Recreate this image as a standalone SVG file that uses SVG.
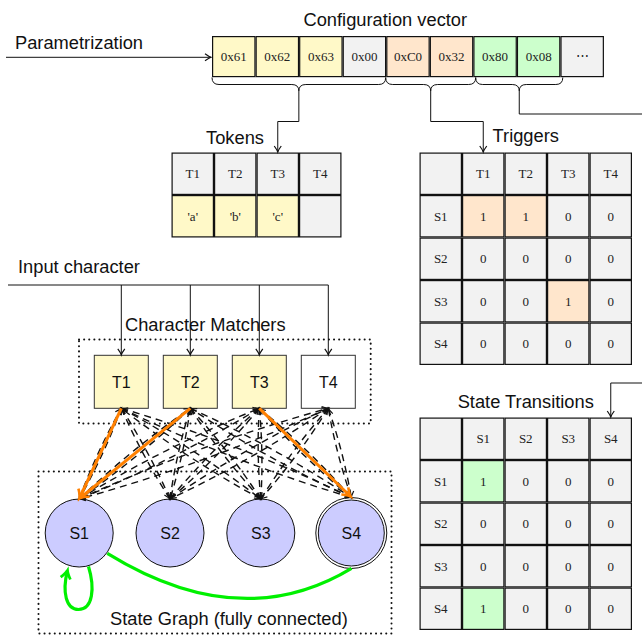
<svg xmlns="http://www.w3.org/2000/svg" width="642" height="635" viewBox="0 0 642 635">
<style>
.t{font-family:"Liberation Sans",Arial,sans-serif;font-size:18.3px;fill:#111}
.nl{font-family:"Liberation Sans",Arial,sans-serif;font-size:16px;fill:#111;text-anchor:middle}
.c{font-family:"Liberation Serif","Times New Roman",serif;font-size:13px;fill:#222;text-anchor:middle}
.cell{stroke:#111;stroke-width:1.2}
.y{fill:#FFF9C8}.g{fill:#F2F2F2}.o{fill:#FFE6CC}.gr{fill:#CCFFCC}
.ln{fill:none;stroke:#111;stroke-width:1}
.dot{fill:none;stroke:#111;stroke-width:2;stroke-linecap:round;stroke-dasharray:0.1 5}
.da{fill:none;stroke:#111;stroke-width:1.4;stroke-dasharray:7 5;marker-end:url(#ak)}
.or{fill:none;stroke:#FF8000;stroke-width:3;marker-end:url(#ao)}
.gn{fill:none;stroke:#00F000;stroke-width:3.2}
</style>
<defs>
<marker id="ak" markerUnits="userSpaceOnUse" viewBox="-8 -6 9 12" markerWidth="9" markerHeight="12" refX="0" refY="0" orient="auto" overflow="visible">
<path d="M-6,-3.5 Q-2,-0.6 0,0 Q-2,0.6 -6,3.5" fill="none" stroke="#111" stroke-width="1.2" stroke-dasharray="none"/>
</marker>
<marker id="ao" markerUnits="userSpaceOnUse" viewBox="-10 -8 12 16" markerWidth="12" markerHeight="16" refX="0" refY="0" orient="auto" overflow="visible">
<path d="M-8,-5 Q-3,-1 0,0 Q-3,1 -8,5" fill="none" stroke="#FF8000" stroke-width="2.6"/>
</marker>
<marker id="ag" markerUnits="userSpaceOnUse" viewBox="-10 -8 12 16" markerWidth="12" markerHeight="16" refX="0" refY="0" orient="auto" overflow="visible">
<path d="M-8,-5 Q-3,-1 0,0 Q-3,1 -8,5" fill="none" stroke="#00F000" stroke-width="2.8"/>
</marker>
</defs>
<rect width="642" height="635" fill="#fff"/>

<!-- Titles -->
<text class="t" x="15" y="48.5">Parametrization</text>
<text class="t" x="303.5" y="26">Configuration vector</text>
<text class="t" x="235" y="144" text-anchor="middle">Tokens</text>
<text class="t" x="525.75" y="141.5" text-anchor="middle">Triggers</text>
<text class="t" x="18" y="273">Input character</text>
<text class="t" x="125" y="331">Character Matchers</text>
<text class="t" x="525.75" y="408" text-anchor="middle">State Transitions</text>
<text class="t" x="110" y="625">State Graph (fully connected)</text>

<!-- Configuration vector -->
<g id="config-vector">
<rect class="cell y" x="212.6" y="36.6" width="42.35" height="40"/>
<rect class="cell y" x="256.15" y="36.6" width="42.35" height="40"/>
<rect class="cell y" x="299.7" y="36.6" width="42.35" height="40"/>
<rect class="cell g" x="343.25" y="36.6" width="42.35" height="40"/>
<rect class="cell o" x="386.8" y="36.6" width="42.35" height="40"/>
<rect class="cell o" x="430.35" y="36.6" width="42.35" height="40"/>
<rect class="cell gr" x="473.9" y="36.6" width="42.35" height="40"/>
<rect class="cell gr" x="517.45" y="36.6" width="42.35" height="40"/>
<rect class="cell g" x="561" y="36.6" width="42.35" height="40"/>
<text class="c" x="233.8" y="61">0x61</text>
<text class="c" x="277.3" y="61">0x62</text>
<text class="c" x="320.9" y="61">0x63</text>
<text class="c" x="364.4" y="61">0x00</text>
<text class="c" x="408" y="61">0xC0</text>
<text class="c" x="451.5" y="61">0x32</text>
<text class="c" x="495.1" y="61">0x80</text>
<text class="c" x="538.7" y="61">0x08</text>
<text class="c" x="582.2" y="60">⋯</text>
</g>

<!-- Tokens table -->
<g id="tokens">
<rect class="cell g" x="172.1" y="153.1" width="41.3" height="41.3"/>
<rect class="cell g" x="214.6" y="153.1" width="41.3" height="41.3"/>
<rect class="cell g" x="257.1" y="153.1" width="41.3" height="41.3"/>
<rect class="cell g" x="299.6" y="153.1" width="41.3" height="41.3"/>
<rect class="cell y" x="172.1" y="195.6" width="41.3" height="41.3"/>
<rect class="cell y" x="214.6" y="195.6" width="41.3" height="41.3"/>
<rect class="cell y" x="257.1" y="195.6" width="41.3" height="41.3"/>
<rect class="cell g" x="299.6" y="195.6" width="41.3" height="41.3"/>
<text class="c" x="192.75" y="178.2">T1</text>
<text class="c" x="235.25" y="178.2">T2</text>
<text class="c" x="277.75" y="178.2">T3</text>
<text class="c" x="320.25" y="178.2">T4</text>
<text class="c" x="192.75" y="220.7">'a'</text>
<text class="c" x="235.25" y="220.7">'b'</text>
<text class="c" x="277.75" y="220.7">'c'</text>
</g>

<!-- Triggers table -->
<g id="triggers">
<g>
<rect class="cell g" x="420.1" y="153.1" width="41.3" height="41.3"/>
<rect class="cell g" x="462.6" y="153.1" width="41.3" height="41.3"/>
<rect class="cell g" x="505.1" y="153.1" width="41.3" height="41.3"/>
<rect class="cell g" x="547.6" y="153.1" width="41.3" height="41.3"/>
<rect class="cell g" x="590.1" y="153.1" width="41.3" height="41.3"/>
<rect class="cell g" x="420.1" y="195.6" width="41.3" height="41.3"/>
<rect class="cell o" x="462.6" y="195.6" width="41.3" height="41.3"/>
<rect class="cell o" x="505.1" y="195.6" width="41.3" height="41.3"/>
<rect class="cell g" x="547.6" y="195.6" width="41.3" height="41.3"/>
<rect class="cell g" x="590.1" y="195.6" width="41.3" height="41.3"/>
<rect class="cell g" x="420.1" y="238.1" width="41.3" height="41.3"/>
<rect class="cell g" x="462.6" y="238.1" width="41.3" height="41.3"/>
<rect class="cell g" x="505.1" y="238.1" width="41.3" height="41.3"/>
<rect class="cell g" x="547.6" y="238.1" width="41.3" height="41.3"/>
<rect class="cell g" x="590.1" y="238.1" width="41.3" height="41.3"/>
<rect class="cell g" x="420.1" y="280.6" width="41.3" height="41.3"/>
<rect class="cell g" x="462.6" y="280.6" width="41.3" height="41.3"/>
<rect class="cell g" x="505.1" y="280.6" width="41.3" height="41.3"/>
<rect class="cell o" x="547.6" y="280.6" width="41.3" height="41.3"/>
<rect class="cell g" x="590.1" y="280.6" width="41.3" height="41.3"/>
<rect class="cell g" x="420.1" y="323.1" width="41.3" height="41.3"/>
<rect class="cell g" x="462.6" y="323.1" width="41.3" height="41.3"/>
<rect class="cell g" x="505.1" y="323.1" width="41.3" height="41.3"/>
<rect class="cell g" x="547.6" y="323.1" width="41.3" height="41.3"/>
<rect class="cell g" x="590.1" y="323.1" width="41.3" height="41.3"/>
</g>
<text class="c" x="483.25" y="178.2">T1</text>
<text class="c" x="525.75" y="178.2">T2</text>
<text class="c" x="568.25" y="178.2">T3</text>
<text class="c" x="610.75" y="178.2">T4</text>
<text class="c" x="440.75" y="220.7">S1</text>
<text class="c" x="483.25" y="220.7">1</text>
<text class="c" x="525.75" y="220.7">1</text>
<text class="c" x="568.25" y="220.7">0</text>
<text class="c" x="610.75" y="220.7">0</text>
<text class="c" x="440.75" y="263.2">S2</text>
<text class="c" x="483.25" y="263.2">0</text>
<text class="c" x="525.75" y="263.2">0</text>
<text class="c" x="568.25" y="263.2">0</text>
<text class="c" x="610.75" y="263.2">0</text>
<text class="c" x="440.75" y="305.7">S3</text>
<text class="c" x="483.25" y="305.7">0</text>
<text class="c" x="525.75" y="305.7">0</text>
<text class="c" x="568.25" y="305.7">1</text>
<text class="c" x="610.75" y="305.7">0</text>
<text class="c" x="440.75" y="348.2">S4</text>
<text class="c" x="483.25" y="348.2">0</text>
<text class="c" x="525.75" y="348.2">0</text>
<text class="c" x="568.25" y="348.2">0</text>
<text class="c" x="610.75" y="348.2">0</text>
</g>

<!-- State transitions table -->
<g id="state-transitions">
<g>
<rect class="cell g" x="420.1" y="418.1" width="41.3" height="41.3"/>
<rect class="cell g" x="462.6" y="418.1" width="41.3" height="41.3"/>
<rect class="cell g" x="505.1" y="418.1" width="41.3" height="41.3"/>
<rect class="cell g" x="547.6" y="418.1" width="41.3" height="41.3"/>
<rect class="cell g" x="590.1" y="418.1" width="41.3" height="41.3"/>
<rect class="cell g" x="420.1" y="460.6" width="41.3" height="41.3"/>
<rect class="cell gr" x="462.6" y="460.6" width="41.3" height="41.3"/>
<rect class="cell g" x="505.1" y="460.6" width="41.3" height="41.3"/>
<rect class="cell g" x="547.6" y="460.6" width="41.3" height="41.3"/>
<rect class="cell g" x="590.1" y="460.6" width="41.3" height="41.3"/>
<rect class="cell g" x="420.1" y="503.1" width="41.3" height="41.3"/>
<rect class="cell g" x="462.6" y="503.1" width="41.3" height="41.3"/>
<rect class="cell g" x="505.1" y="503.1" width="41.3" height="41.3"/>
<rect class="cell g" x="547.6" y="503.1" width="41.3" height="41.3"/>
<rect class="cell g" x="590.1" y="503.1" width="41.3" height="41.3"/>
<rect class="cell g" x="420.1" y="545.6" width="41.3" height="41.3"/>
<rect class="cell g" x="462.6" y="545.6" width="41.3" height="41.3"/>
<rect class="cell g" x="505.1" y="545.6" width="41.3" height="41.3"/>
<rect class="cell g" x="547.6" y="545.6" width="41.3" height="41.3"/>
<rect class="cell g" x="590.1" y="545.6" width="41.3" height="41.3"/>
<rect class="cell g" x="420.1" y="588.1" width="41.3" height="41.3"/>
<rect class="cell gr" x="462.6" y="588.1" width="41.3" height="41.3"/>
<rect class="cell g" x="505.1" y="588.1" width="41.3" height="41.3"/>
<rect class="cell g" x="547.6" y="588.1" width="41.3" height="41.3"/>
<rect class="cell g" x="590.1" y="588.1" width="41.3" height="41.3"/>
</g>
<text class="c" x="483.25" y="443.2">S1</text>
<text class="c" x="525.75" y="443.2">S2</text>
<text class="c" x="568.25" y="443.2">S3</text>
<text class="c" x="610.75" y="443.2">S4</text>
<text class="c" x="440.75" y="485.7">S1</text>
<text class="c" x="483.25" y="485.7">1</text>
<text class="c" x="525.75" y="485.7">0</text>
<text class="c" x="568.25" y="485.7">0</text>
<text class="c" x="610.75" y="485.7">0</text>
<text class="c" x="440.75" y="528.2">S2</text>
<text class="c" x="483.25" y="528.2">0</text>
<text class="c" x="525.75" y="528.2">0</text>
<text class="c" x="568.25" y="528.2">0</text>
<text class="c" x="610.75" y="528.2">0</text>
<text class="c" x="440.75" y="570.7">S3</text>
<text class="c" x="483.25" y="570.7">0</text>
<text class="c" x="525.75" y="570.7">0</text>
<text class="c" x="568.25" y="570.7">0</text>
<text class="c" x="610.75" y="570.7">0</text>
<text class="c" x="440.75" y="613.2">S4</text>
<text class="c" x="483.25" y="613.2">1</text>
<text class="c" x="525.75" y="613.2">0</text>
<text class="c" x="568.25" y="613.2">0</text>
<text class="c" x="610.75" y="613.2">0</text>
</g>

<!-- Containers -->
<g id="character-matchers">
<rect class="dot" x="79" y="339.5" width="291.7" height="84"/>
</g>
<g id="state-graph">
<rect class="dot" x="38.5" y="471.5" width="353" height="162"/>
</g>

<!-- Matcher nodes -->
<g id="T1"><rect x="94.3" y="355.3" width="54" height="53" fill="#FFF9C8" stroke="#333" stroke-width="1"/><text class="nl" x="121.3" y="387.5">T1</text></g>
<g id="T2"><rect x="163.3" y="355.3" width="54" height="53" fill="#FFF9C8" stroke="#333" stroke-width="1"/><text class="nl" x="190.3" y="387.5">T2</text></g>
<g id="T3"><rect x="232.3" y="355.3" width="54" height="53" fill="#FFF9C8" stroke="#333" stroke-width="1"/><text class="nl" x="259.3" y="387.5">T3</text></g>
<g id="T4"><rect x="301.3" y="355.3" width="54" height="53" fill="#FFFFFF" stroke="#333" stroke-width="1"/><text class="nl" x="328.3" y="387.5">T4</text></g>

<!-- State nodes -->
<g id="S1"><circle cx="79.2" cy="533" r="34" fill="#CCCCFF" stroke="#111" stroke-width="1"/><text class="nl" x="79.2" y="538.8">S1</text></g>
<g id="S2"><circle cx="170" cy="533" r="34" fill="#CCCCFF" stroke="#111" stroke-width="1"/><text class="nl" x="170" y="538.8">S2</text></g>
<g id="S3"><circle cx="260.8" cy="533" r="34" fill="#CCCCFF" stroke="#111" stroke-width="1"/><text class="nl" x="260.8" y="538.8">S3</text></g>
<g id="S4"><circle cx="351.3" cy="533" r="35.5" fill="#FFFFFF" stroke="#111" stroke-width="1"/><circle cx="351.3" cy="533" r="33" fill="#CCCCFF" stroke="#111" stroke-width="1"/><text class="nl" x="351.3" y="538.8">S4</text></g>

<!-- Connectors -->
<g id="connectors">
<path class="ln" d="M6,57.3 H211" marker-end="url(#ak)"/>
<path class="ln" d="M212,77.5 Q212,84.5 219,84.5 H291.85 Q298.85,84.5 298.85,91 Q298.85,84.5 305.85,84.5 H378.7 Q385.7,84.5 385.7,77.5"/>
<path class="ln" d="M385.7,77.5 Q385.7,84.5 392.7,84.5 H423.7 Q430.7,84.5 430.7,91 Q430.7,84.5 437.7,84.5 H468.7 Q475.7,84.5 475.7,77.5"/>
<path class="ln" d="M475.7,77.5 Q475.7,84.5 482.7,84.5 H512.25 Q519.25,84.5 519.25,91 Q519.25,84.5 526.25,84.5 H555.8 Q562.8,84.5 562.8,77.5"/>
<path class="ln" d="M298.85,91 V121.5 H277.75 V152" marker-end="url(#ak)"/>
<path class="ln" d="M430.7,91 V121.5 H483.25 V152" marker-end="url(#ak)"/>
<path class="ln" d="M519.25,91 V114 H642"/>
<path class="ln" d="M642,383 H610.75 V417" marker-end="url(#ak)"/>
<path class="ln" d="M8,285 H328.3"/>
<path class="ln" d="M121.3,285 V354.8" marker-end="url(#ak)"/>
<path class="ln" d="M190.3,285 V354.8" marker-end="url(#ak)"/>
<path class="ln" d="M259.3,285 V354.8" marker-end="url(#ak)"/>
<path class="ln" d="M328.3,285 V354.8" marker-end="url(#ak)"/>

<path class="da" d="M121.3,408.3 Q103.9,455.3 79.2,499"/>
<path class="da" d="M79.2,499 Q96.6,452 121.3,408.3"/>
<path class="da" d="M121.3,408.3 Q149.3,451.7 170,499"/>
<path class="da" d="M170,499 Q142,455.6 121.3,408.3"/>
<path class="da" d="M121.3,408.3 Q194.7,448.1 260.8,499"/>
<path class="da" d="M260.8,499 Q187.4,459.2 121.3,408.3"/>
<path class="da" d="M121.3,408.3 Q239.9,443.7 351.3,497.5"/>
<path class="da" d="M351.3,497.5 Q232.7,462.1 121.3,408.3"/>

<path class="da" d="M190.3,408.3 Q138.4,458.1 79.2,499"/>
<path class="da" d="M79.2,499 Q131.1,449.2 190.3,408.3"/>
<path class="da" d="M190.3,408.3 Q183.8,454.5 170,499"/>
<path class="da" d="M170,499 Q176.5,452.8 190.3,408.3"/>
<path class="da" d="M190.3,408.3 Q229.2,450.8 260.8,499"/>
<path class="da" d="M260.8,499 Q221.9,456.5 190.3,408.3"/>
<path class="da" d="M190.3,408.3 Q274.4,446.5 351.3,497.5"/>
<path class="da" d="M351.3,497.5 Q267.2,459.3 190.3,408.3"/>

<path class="da" d="M259.3,408.3 Q172.9,460.9 79.2,499"/>
<path class="da" d="M79.2,499 Q165.6,446.4 259.3,408.3"/>
<path class="da" d="M259.3,408.3 Q218.3,457.2 170,499"/>
<path class="da" d="M170,499 Q211,450.1 259.3,408.3"/>
<path class="da" d="M259.3,408.3 Q263.7,453.6 260.8,499"/>
<path class="da" d="M260.8,499 Q256.4,453.7 259.3,408.3"/>
<path class="da" d="M259.3,408.3 Q308.9,449.2 351.3,497.5"/>
<path class="da" d="M351.3,497.5 Q301.7,456.6 259.3,408.3"/>

<path class="da" d="M328.3,408.3 Q207.4,463.6 79.2,499"/>
<path class="da" d="M79.2,499 Q200.1,443.7 328.3,408.3"/>
<path class="da" d="M328.3,408.3 Q252.8,460 170,499"/>
<path class="da" d="M170,499 Q245.5,447.3 328.3,408.3"/>
<path class="da" d="M328.3,408.3 Q298.2,456.4 260.8,499"/>
<path class="da" d="M260.8,499 Q290.9,451 328.3,408.3"/>
<path class="da" d="M328.3,408.3 Q343.4,452 351.3,497.5"/>
<path class="da" d="M351.3,497.5 Q336.2,453.8 328.3,408.3"/>

<path class="or" d="M121.3,408.3 L79.6,498"/>
<path class="or" d="M190.3,408.3 L80.2,498"/>
<path class="or" d="M259.3,408.3 L350.6,496.5"/>

<path class="gn" d="M351.5,568.3 Q240.6,635.4 107.3,553.3"/>
<path class="gn" d="M88.5,566.5 C95,588 93,609.5 78.5,609.5 C66,609.5 62,592 67.5,570.5" marker-end="url(#ag)"/>
</g>
</svg>
